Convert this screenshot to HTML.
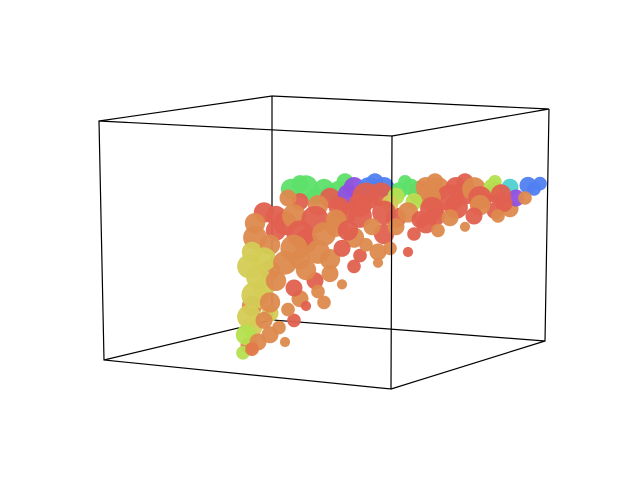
<!DOCTYPE html>
<html><head><meta charset="utf-8"><style>body{margin:0;background:#fff}svg{display:block}</style></head>
<body>
<svg id="chart" width="640" height="480" viewBox="0 0 640 480">
<g id="back" stroke="#000" stroke-width="1.2" fill="none">
<polyline points="272,96 272,320 545,341"/><line x1="104" y1="360" x2="272" y2="320"/>
</g>
<g id="pts"></g>
<g id="front" stroke="#000" stroke-width="1.2" fill="none">
<polygon points="99,121 392,136 391,389 104,360"/>
<polyline points="99,121 272,96 549,109 392,136"/>
<polyline points="549,109 545,341 391,389"/>
</g>
</svg>
<script>
const palette=["#e0604f","#dd8a4e","#d4cc55","#5ee06a","#5080f0","#9050e0","#b5e050","#50d0d0","#e07848"];
const u=[20,35,45,55,65,75,85,100,60,75,85,40,30,
8,35,52,65,90,5,15,32,48,62,85,5,22,38,46,4,30,40,20,3,25,10,8,20,28,4,10,18,4,10,3,15,
17,22,28,33,38,43,48,53,25,30,36,42,47,52,57,62,66,72,78,84,90,96,98,92,87,80,70,63,58,50,40,33,26,20,16,
12,18,25,32,40,48,56,64,72,80,88,95,60,70,78,86,12,20,28,36,44,52,58,66,75,10,18,26,34,42,50,56,8,15,22,30,38,46,6,12,18,26,34,5,10,16,22,3,8,13,2,6,1,4];
const v=[98,99,99,99,99,99,99,98,93,93,93,89,93,
82,82,79,80,84,76,76,75,70,76,83,68,66,68,60,60,56,58,56,52,44,50,40,34,32,30,26,22,18,14,8,10,
95,96,95,94,96,95,96,94,91,90,92,91,92,91,96,96,95,96,95,96,96,97,95,90,92,90,90,90,88,87,86,85,86,88,90,
80,80,78,78,80,82,82,84,85,86,87,90,78,79,80,80,72,70,70,72,74,74,70,72,74,64,62,60,62,64,62,60,56,54,50,48,52,54,46,44,40,38,42,36,32,28,30,24,22,18,14,10,4,6];
const cat=[3,3,4,3,1,0,6,4,0,0,0,5,7,
0,0,0,0,1,1,0,1,0,0,0,1,0,1,1,2,1,0,1,2,0,1,2,1,1,1,2,0,2,1,1,1,
3,3,3,3,5,4,4,3,3,0,5,0,0,6,3,1,1,0,1,6,7,4,4,5,0,0,0,1,6,2,0,0,1,0,1,
0,1,0,1,0,0,1,0,0,1,0,1,0,1,0,1,0,0,1,0,1,1,0,1,1,1,1,1,0,1,1,0,2,1,1,1,0,1,2,1,0,1,1,2,1,1,0,2,1,1,6,1,6,8];
const sz=[5,5,5,4,5,5,4,4,7,7,6,5,5,
6,7,6,6,5,6,7,7,6,6,5,7,7,6,5,6,6,4,6,7,5,6,6,5,4,6,5,4,6,5,5,3,
6,7,6,6,6,7,6,5,5,6,6,8,7,5,5,6,7,6,7,5,5,5,4,5,6,7,8,7,5,5,7,6,6,5,5,
6,7,8,6,7,7,6,7,7,6,5,4,5,5,5,4,6,8,7,6,5,5,4,4,3,6,8,7,5,4,4,3,7,7,6,5,4,3,7,6,5,4,3,8,6,4,3,7,5,4,6,5,4,4];
const sx=d=>240+d*3, sy=d=>360-d*1.8;
const g=document.getElementById('pts');
for(let i=0;i<u.length;i++){
 const c=document.createElementNS('http://www.w3.org/2000/svg','circle');
 
 
 c.setAttribute('cx',sx(u[i]));c.setAttribute('cy',sy(v[i]));
 c.setAttribute('r',sz[i]*1.7);c.setAttribute('fill',palette[cat[i]]);c.setAttribute('opacity','0.95');
 g.appendChild(c);
}
</script>
</body></html>
